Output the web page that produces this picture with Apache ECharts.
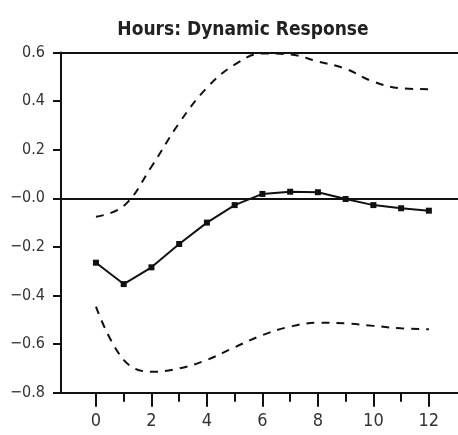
<!DOCTYPE html>
<html><head><meta charset="utf-8">
<script src="https://cdn.jsdelivr.net/npm/echarts@6/dist/echarts.min.js"></script>
<style>html,body{margin:0;padding:0;background:#fff}#c{width:458px;height:435px}</style>
</head><body><div id="c"></div>
<script>
const steps = [0,1,2,3,4,5,6,7,8,9,10,11,12];
const response = [-0.265,-0.353,-0.284,-0.188,-0.100,-0.028,0.018,0.027,0.025,-0.003,-0.028,-0.041,-0.051];
const upperBand = [-0.076,-0.032,0.13,0.31,0.455,0.55,0.596,0.592,0.563,0.533,0.48,0.453,0.449];
const lowerBand = [-0.446,-0.665,-0.714,-0.70,-0.665,-0.613,-0.563,-0.528,-0.512,-0.515,-0.525,-0.535,-0.539];
const yTicks = [0.6,0.4,0.2,0.0,-0.2,-0.4,-0.6,-0.8];
const xLabels = [0,2,4,6,8,10,12];
const xMinorTicks = [1,3,5,7,9,11];

const FONT = '"Liberation Sans Narrow","DejaVu Sans Condensed","Liberation Sans",sans-serif';
const pair = a => steps.map((s,i)=>[s,a[i]]);
const fmtY = v => { const r = Math.round(v*10)/10; return (r<=0 ? '\u2212' : '') + Math.abs(r).toFixed(1); };

const chart = echarts.init(document.getElementById('c'), null, {renderer:'canvas'});
chart.setOption({
  animation:false,
  title:{text:'Hours: Dynamic Response', left:238, top:16, textAlign:'center',
    textStyle:{fontFamily:FONT, fontSize:19, fontWeight:'bold', color:'#222'}},
  grid:{left:61, right:0, top:52.5, bottom:42.3},
  xAxis:[{
    type:'value', min:-1.26, max:13.05,
    splitLine:{show:false},
    axisLine:{show:true, onZero:false, lineStyle:{color:'#111', width:2}},
    axisTick:{show:true, length:14, customValues:xLabels, lineStyle:{color:'#111', width:2}},
    axisLabel:{customValues:xLabels, fontFamily:FONT, fontSize:18, color:'#333', margin:20}
  },{
    type:'value', min:-1.26, max:13.05, position:'bottom',
    splitLine:{show:false}, axisLine:{show:false, onZero:false},
    axisTick:{show:true, length:9, customValues:xMinorTicks, lineStyle:{color:'#111', width:2}},
    axisLabel:{show:false}
  }],
  yAxis:{
    type:'value', min:-0.8, max:0.6, interval:0.2,
    splitLine:{show:false},
    axisLine:{show:true, onZero:false, lineStyle:{color:'#111', width:2}},
    axisTick:{show:true, length:8, lineStyle:{color:'#111', width:2}},
    axisLabel:{formatter:fmtY, fontFamily:FONT, fontSize:16, color:'#333', margin:16}
  },
  series:[
    {type:'line', data:pair(upperBand), smooth:0.4, symbol:'none',
     lineStyle:{color:'#111', width:2, type:[8,7]},
     markLine:{silent:true, symbol:'none', label:{show:false},
       lineStyle:{color:'#111', width:2, type:'solid'},
       data:[{yAxis:0},{yAxis:0.6}]}},
    {type:'line', data:pair(lowerBand), smooth:0.4, symbol:'none',
     lineStyle:{color:'#111', width:2, type:[8,7]}},
    {type:'line', data:pair(response), smooth:false, symbol:'rect', symbolSize:6,
     itemStyle:{color:'#111'}, lineStyle:{color:'#111', width:2}}
  ]
});
</script></body></html>
